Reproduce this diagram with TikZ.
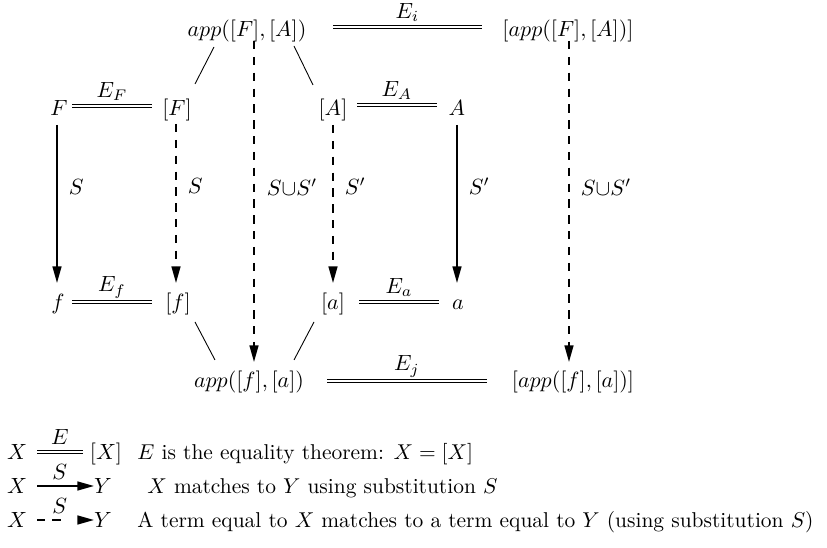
\documentclass[tikz,border=0pt]{standalone}
\usetikzlibrary{arrows.meta}
\begin{document}
\begin{tikzpicture}[x=0.4545pt,y=-0.4545pt,
  term/.style={inner sep=0pt, anchor=base},
  eqline/.style={double, double distance=1.3pt, line width=0.4pt},
  lab/.style={inner sep=0pt},
  tipped/.style={-{Triangle[length=7.5pt,width=4pt]}},
  match/.style={tipped, line width=0.8pt},
  eqmatch/.style={tipped, line width=0.8pt, dash pattern=on 3.8pt off 3.4pt},
  legdash/.style={tipped, line width=0.8pt, dash pattern=on 3.8pt off 3.2pt on 3.8pt off 20pt},
  legtext/.style={inner sep=0pt, anchor=base west, scale=0.975},
  thinline/.style={line width=0.4pt}]
\useasboundingbox (0,0) rectangle (827,548);

% terms
\node[term] (t1) at (247,37) {$app([F],[A])$};
\node[term] (t2) at (568,37) {$[app([F],[A])]$};
\node[term] (F)  at (59,116) {$F$};
\node[term] (Fb) at (177,116) {$[F]$};
\node[term] (Ab) at (333,116) {$[A]$};
\node[term] (A)  at (457,116) {$A$};
\node[term] (f)  at (58,310) {$f$};
\node[term] (fb) at (178,310) {$[f]$};
\node[term] (ab) at (333,310) {$[a]$};
\node[term] (a)  at (458,310) {$a$};
\node[term] (b1) at (249,388) {$app([f],[a])$};
\node[term] (b2) at (573,388) {$[app([f],[a])]$};

% equalities
\draw[eqline] ([shift={(86,-10)}]t1.base) -- node[lab, yshift=6.6pt] {$E_i$} ([shift={(-86,-10)}]t2.base);
\draw[eqline] ([shift={(13,-10)}]F.base) -- node[lab, yshift=6.6pt] {$E_F$} ([shift={(-25,-10)}]Fb.base);
\draw[eqline] ([shift={(24,-11)}]Ab.base) -- node[lab, yshift=6.6pt] {$E_A$} ([shift={(-20,-11)}]A.base);
\draw[eqline] ([shift={(14,-8)}]f.base) -- node[lab, yshift=6.6pt] {$E_f$} ([shift={(-26,-8)}]fb.base);
\draw[eqline] ([shift={(26,-8)}]ab.base) -- node[lab, yshift=6.6pt] {$E_a$} ([shift={(-19,-8)}]a.base);
\draw[eqline] ([shift={(78,-7)}]b1.base) -- node[lab, yshift=6.6pt] {$E_j$} ([shift={(-86,-7)}]b2.base);

% sub-term lines
\draw[thinline] ([shift={(-33,10)}]t1.base) -- ([shift={(18,-32)}]Fb.base);
\draw[thinline] ([shift={(47,9)}]t1.base) -- ([shift={(-20,-31)}]Ab.base);
\draw[thinline] ([shift={(17,12)}]fb.base) -- ([shift={(-34,-28)}]b1.base);
\draw[thinline] ([shift={(-19,12)}]ab.base) -- ([shift={(45,-28)}]b1.base);

% matches
\draw[match] ([shift={(-2,9)}]F.base) -- node[lab, pos=0.39, anchor=west, xshift=5pt] {$S$} ([shift={(-1,-27)}]f.base);
\draw[eqmatch] ([shift={(-1,8)}]Fb.base) -- node[lab, pos=0.39, anchor=west, xshift=5pt] {$S$} ([shift={(-2,-27)}]fb.base);
\draw[eqmatch] ([shift={(0,9)}]Ab.base) -- node[lab, pos=0.39, anchor=west, xshift=5pt] {$S'$} ([shift={(0,-27)}]ab.base);
\draw[match] ([shift={(0,9)}]A.base) -- node[lab, pos=0.39, anchor=west, xshift=5pt] {$S'$} ([shift={(-1,-27)}]a.base);
\draw[eqmatch] ([shift={(7,4)}]t1.base) -- node[lab, pos=0.455, anchor=west, xshift=5.5pt] {$S{\cup}S'$} ([shift={(5,-26)}]b1.base);
\draw[eqmatch] ([shift={(1,4)}]t2.base) -- node[lab, pos=0.455, anchor=west, xshift=5pt] {$S{\cup}S'$} ([shift={(-4,-26)}]b2.base);

% legend
\node[term] (x1) at (17,460) {$X$};
\node[term] (x1b) at (106,460) {$[X]$};
\draw[eqline] ([shift={(20,-8)}]x1.base) -- node[lab, pos=0.5, yshift=6.8pt] {$E$} ([shift={(-23,-8)}]x1b.base);
\node[legtext] (l1) at (137,460) {$E$ is the equality theorem: $X=[X]$};

\node[term] (x2) at (17,494) {$X$};
\node[term] (y2) at (103,494) {$Y$};
\draw[match] ([shift={(20,-8)}]x2.base) -- node[lab, pos=0.4, yshift=6.2pt] {$S$} ([shift={(-9,-8)}]y2.base);
\node[legtext] (l2) at (147,494) {$X$ matches to $Y$ using substitution $S$};

\node[term] (x3) at (17,528) {$X$};
\node[term] (y3) at (103,528) {$Y$};
\draw[legdash] ([shift={(20,-8)}]x3.base) -- node[lab, pos=0.4, yshift=6.2pt] {$S$} ([shift={(-9,-8)}]y3.base);
\node[legtext] (l3) at (137,528) {A term equal to $X$ matches to a term equal to $Y$ (using substitution $S$)};
\end{tikzpicture}
\end{document}
